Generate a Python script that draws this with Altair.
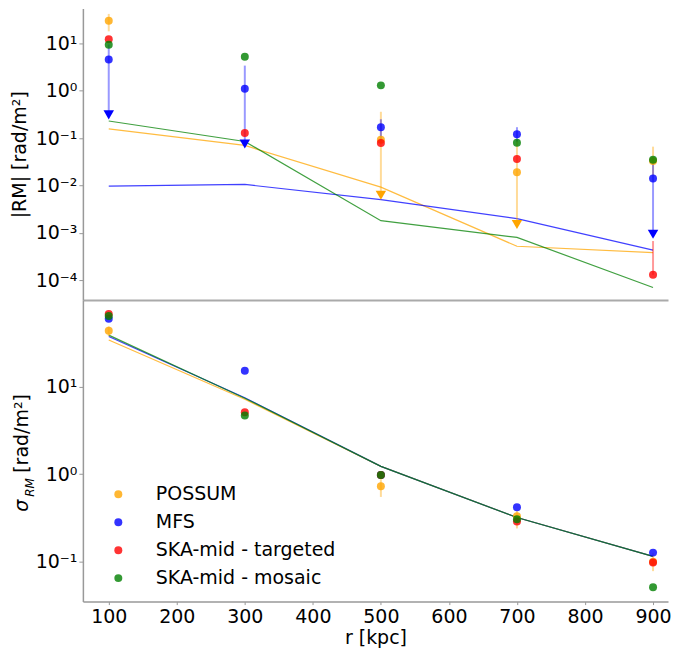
import altair as alt
import pandas as pd

# ---------------- data ----------------
r_kpc = [100, 300, 500, 700, 900]
series_names = ["POSSUM", "MFS", "SKA-mid - targeted", "SKA-mid - mosaic"]
series_colors = ["#FFA500", "#0000FF", "#FF0000", "#008000"]

# top panel: |RM| points
rm_possum = [30, None, 0.092, 0.019, 0.033]
rm_mfs = [4.6, 1.1, 0.17, 0.12, 0.014]
rm_targeted = [12.3, 0.128, 0.079, 0.036, 0.00013]
rm_mosaic = [9.4, 5.2, 1.3, 0.08, 0.035]
# top panel: error bars (low / high)
rm_possum_lo = [18, None, 0.0062, 0.0015, 0.0165]
rm_possum_hi = [42, None, 0.36, 0.09, 0.066]
rm_mfs_lo = [0.31, 0.075, 0.089, 0.085, 0.00093]
rm_mfs_hi = [9.5, 3.4, 0.25, 0.17, 0.029]
rm_targeted_lo = [None, None, None, None, 0.00013]
rm_targeted_hi = [None, None, None, None, 0.00067]
# top panel: upper limits (arrow at the low end)
rm_possum_uplim = [False, False, True, True, False]
rm_mfs_uplim = [True, True, False, False, True]
# top panel: model lines
rm_line_possum = [0.156, 0.070, 0.0092, 0.00052, 0.00038]
rm_line_mfs = [0.0097, 0.0105, 0.005, 0.002, 0.00043]
rm_line_mosaic = [0.23, 0.085, 0.0018, 0.0008, 0.00007]

# bottom panel: sigma_RM points
sig_possum = [43.6, None, 0.73, 0.33, 0.1]
sig_mfs = [60, 15.2, 0.98, 0.42, 0.127]
sig_targeted = [68, 5.1, 0.98, 0.288, 0.098]
sig_mosaic = [64.5, 4.7, 0.98, 0.306, 0.051]
sig_possum_lo = [38, None, 0.55, 0.24, 0.078]
sig_possum_hi = [49, None, 0.9, 0.38, 0.125]
# bottom panel: model lines
sig_line_possum = [34.3, 7.2, 1.23, 0.32, 0.115]
sig_line_mfs = [37.5, 7.5, 1.23, 0.32, 0.115]
sig_line_mosaic = [38.9, 7.4, 1.23, 0.32, 0.115]

# ---------------- helpers ----------------
def rows(name, vals, key="v"):
    return [{"r": r, "series": name, key: v} for r, v in zip(r_kpc, vals) if v is not None]

def bar_rows(name, lo, hi):
    return [{"r": r, "series": name, "lo": a, "hi": b}
            for r, a, b in zip(r_kpc, lo, hi) if a is not None and b is not None]

def lim_rows(name, lo, flags):
    return [{"r": r, "series": name, "v": a}
            for r, a, f in zip(r_kpc, lo, flags) if f and a is not None]

GRAY = "#999999"
FONT = "DejaVu Sans"

x_scale = alt.Scale(domain=[62, 922], nice=False, zero=False)
top_y_scale = alt.Scale(type="log", domain=[3.8e-5, 54.7], nice=False)
bot_y_scale = alt.Scale(type="log", domain=[0.035, 98], nice=False)
color_scale = alt.Scale(domain=series_names, range=series_colors)
# same mapping, listed in reverse so its (hidden) legend is not merged with the colour legend
line_scale = alt.Scale(domain=series_names[::-1], range=series_colors[::-1])

def y_axis(values, labels, title):
    arr = "[" + ",".join(f"'{s}'" for s in labels) + "]"
    expr = f"{arr}[indexof({values}, datum.value)]"
    kw = dict(values=values, labelExpr=expr, labelOverlap=False,
              labelBound=False, labelFlush=False, labelPadding=2, tickSize=4,
              domainWidth=1.5)
    if title is not None:
        kw.update(title=title, titlePadding=6)
    else:
        kw.update(title=None)
    return alt.Axis(**kw)

top_axis = y_axis([0.0001, 0.001, 0.01, 0.1, 1, 10],
                  ["10⁻⁴", "10⁻³", "10⁻²", "10⁻¹", "10⁰", "10¹"], "|RM| [rad/m²]")
bot_axis = y_axis([0.1, 1, 10], ["10⁻¹", "10⁰", "10¹"], None)

top_x_axis = alt.Axis(labels=False, ticks=False, title=None, domainWidth=2, domainColor="#AAAAAA")
bot_x_axis = alt.Axis(values=[100, 200, 300, 400, 500, 600, 700, 800, 900], title="r [kpc]",
                      tickSize=3, labelPadding=3, titlePadding=2, domainWidth=1.5,
                      labelFlush=False)

legend = alt.Legend(orient="none", legendX=26, legendY=477, title=None,
                    labelFontSize=19, labelFont=FONT, labelColor="black", labelLimit=400,
                    symbolType="circle", symbolSize=64, symbolOpacity=0.8,
                    symbolStrokeWidth=0, labelOffset=28, rowPadding=8, padding=0)

def X(axis):
    return alt.X("r:Q", scale=x_scale, axis=axis)

# ---------------- top panel ----------------
top_line_df = pd.DataFrame(rows("POSSUM", rm_line_possum) + rows("MFS", rm_line_mfs)
                           + rows("SKA-mid - mosaic", rm_line_mosaic))
top_bar_df = pd.DataFrame(bar_rows("POSSUM", rm_possum_lo, rm_possum_hi)
                          + bar_rows("MFS", rm_mfs_lo, rm_mfs_hi)
                          + bar_rows("SKA-mid - targeted", rm_targeted_lo, rm_targeted_hi))
top_pt_df = pd.DataFrame(rows("POSSUM", rm_possum) + rows("MFS", rm_mfs)
                         + rows("SKA-mid - targeted", rm_targeted)
                         + rows("SKA-mid - mosaic", rm_mosaic))
top_lim_df = pd.DataFrame(lim_rows("POSSUM", rm_possum_lo, rm_possum_uplim)
                          + lim_rows("MFS", rm_mfs_lo, rm_mfs_uplim))

def Ytop(field="v:Q"):
    return alt.Y(field, scale=top_y_scale, axis=top_axis)

t_lines = alt.Chart(top_line_df).mark_line(strokeWidth=1.2, opacity=0.75).encode(
    x=X(top_x_axis), y=Ytop(),
    stroke=alt.Stroke("series:N", scale=line_scale, legend=None))
t_bars = alt.Chart(top_bar_df).mark_rule(strokeWidth=2, opacity=0.4).encode(
    x=X(top_x_axis), y=Ytop("lo:Q"), y2="hi:Q",
    stroke=alt.Stroke("series:N", scale=line_scale, legend=None))
t_pts = alt.Chart(top_pt_df).mark_circle(size=64, opacity=0.8).encode(
    x=X(top_x_axis), y=Ytop(),
    color=alt.Color("series:N", scale=color_scale, legend=legend))
t_lims = alt.Chart(top_lim_df).mark_point(shape="triangle-down", filled=True, size=110,
                                          opacity=1, strokeWidth=0).encode(
    x=X(top_x_axis), y=Ytop(),
    fill=alt.Fill("series:N", scale=line_scale, legend=None))

top = alt.layer(t_lines, t_bars, t_pts, t_lims).properties(width=586, height=292)

# ---------------- bottom panel ----------------
bot_line_df = pd.DataFrame(rows("POSSUM", sig_line_possum) + rows("MFS", sig_line_mfs)
                           + rows("SKA-mid - mosaic", sig_line_mosaic))
bot_bar_df = pd.DataFrame(bar_rows("POSSUM", sig_possum_lo, sig_possum_hi))
bot_pt_df = pd.DataFrame(rows("POSSUM", sig_possum) + rows("MFS", sig_mfs)
                         + rows("SKA-mid - targeted", sig_targeted)
                         + rows("SKA-mid - mosaic", sig_mosaic))

def Ybot(field="v:Q"):
    return alt.Y(field, scale=bot_y_scale, axis=bot_axis)

b_lines = alt.Chart(bot_line_df).mark_line(strokeWidth=1.2, opacity=0.75).encode(
    x=X(bot_x_axis), y=Ybot(),
    stroke=alt.Stroke("series:N", scale=line_scale, legend=None))
b_bars = alt.Chart(bot_bar_df).mark_rule(strokeWidth=2, opacity=0.4).encode(
    x=X(bot_x_axis), y=Ybot("lo:Q"), y2="hi:Q",
    stroke=alt.Stroke("series:N", scale=line_scale, legend=None))
b_pts = alt.Chart(bot_pt_df).mark_circle(size=64, opacity=0.8).encode(
    x=X(bot_x_axis), y=Ybot(),
    color=alt.Color("series:N", scale=color_scale, legend=legend))

one = pd.DataFrame({"k": [0]})
t_sigma = alt.Chart(one).mark_text(text="σ", angle=270, align="left", baseline="alphabetic",
                                   fontSize=19, fontStyle="italic", font=FONT, color="black").encode(
    x=alt.value(-55), y=alt.value(212))
t_sub = alt.Chart(one).mark_text(text="RM", angle=270, align="left", baseline="alphabetic",
                                 fontSize=12, fontStyle="italic", font=FONT, color="black").encode(
    x=alt.value(-49), y=alt.value(197))
t_unit = alt.Chart(one).mark_text(text="[rad/m²]", angle=270, align="left", baseline="alphabetic",
                                  fontSize=19, font=FONT, color="black").encode(
    x=alt.value(-55), y=alt.value(173))

bottom = alt.layer(b_lines, b_bars, b_pts, t_sigma, t_sub, t_unit).properties(width=586, height=302)

chart = alt.vconcat(top, bottom, spacing=0).properties(
    padding={"left": 2, "top": 0, "right": 0, "bottom": 0}
).configure(font=FONT).configure_view(stroke=None).configure_axis(
    grid=False, labelFont=FONT, titleFont=FONT, labelColor="black", titleColor="black",
    domainColor=GRAY, tickColor=GRAY, titleFontWeight="normal", labelFontSize=19,
    titleFontSize=19)

chart.save("out.html", embed_options={"renderer": "svg", "actions": False})
